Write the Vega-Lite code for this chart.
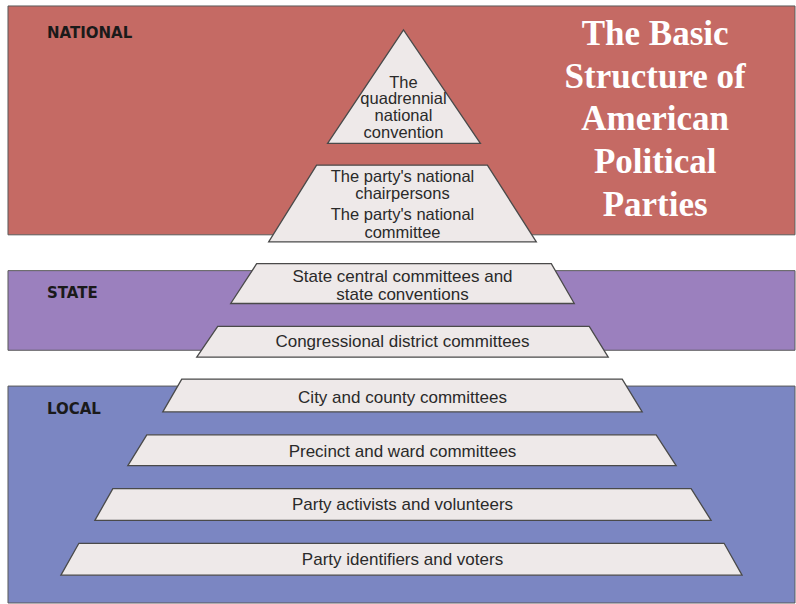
{
  "$schema": "https://vega.github.io/schema/vega-lite/v6.json",
  "width": 796,
  "height": 604,
  "autosize": {"type": "fit", "contains": "padding"},
  "padding": 0,
  "background": "white",
  "config": {"view": {"stroke": null}},
  "datasets": {
    "bands": [
      {"level": "NATIONAL", "x1": 8, "x2": 796, "y1": 6, "y2": 236},
      {"level": "STATE", "x1": 8, "x2": 796, "y1": 272, "y2": 352},
      {"level": "LOCAL", "x1": 8, "x2": 796, "y1": 388, "y2": 606}
    ],
    "shapes": [
      {"shape": "s1", "y": 30, "xl": 404, "xr": 404},
      {"shape": "s1", "y": 144, "xl": 328, "xr": 481},
      {"shape": "s2", "y": 166, "xl": 317, "xr": 488},
      {"shape": "s2", "y": 243, "xl": 269, "xr": 537},
      {"shape": "s3", "y": 265, "xl": 257, "xr": 552},
      {"shape": "s3", "y": 305, "xl": 231, "xr": 575},
      {"shape": "s4", "y": 328, "xl": 218, "xr": 590},
      {"shape": "s4", "y": 359, "xl": 197, "xr": 609},
      {"shape": "s5", "y": 381, "xl": 182, "xr": 623},
      {"shape": "s5", "y": 414, "xl": 163, "xr": 643},
      {"shape": "s6", "y": 437, "xl": 147, "xr": 657},
      {"shape": "s6", "y": 468, "xl": 128, "xr": 677},
      {"shape": "s7", "y": 491, "xl": 113, "xr": 692},
      {"shape": "s7", "y": 523, "xl": 95, "xr": 712},
      {"shape": "s8", "y": 546, "xl": 79, "xr": 725},
      {"shape": "s8", "y": 578, "xl": 61, "xr": 743}
    ],
    "multi": [
      {"text": "The", "x": 404, "y": 88},
      {"text": "quadrennial", "x": 404, "y": 105},
      {"text": "national", "x": 404, "y": 122},
      {"text": "convention", "x": 404, "y": 139},
      {"text": "The party's national", "x": 403, "y": 183},
      {"text": "chairpersons", "x": 403, "y": 200},
      {"text": "The party's national", "x": 403, "y": 221},
      {"text": "committee", "x": 403, "y": 239}
    ],
    "single": [
      {"text": "State central committees and", "x": 403, "y": 283},
      {"text": "state conventions", "x": 403, "y": 301},
      {"text": "Congressional district committees", "x": 403, "y": 349},
      {"text": "City and county committees", "x": 403, "y": 405},
      {"text": "Precinct and ward committees", "x": 403, "y": 459},
      {"text": "Party activists and volunteers", "x": 403, "y": 513},
      {"text": "Party identifiers and voters", "x": 403, "y": 568}
    ],
    "labels": [
      {"text": "NATIONAL", "x": 47, "y": 38},
      {"text": "STATE", "x": 47, "y": 299},
      {"text": "LOCAL", "x": 47, "y": 416}
    ],
    "title": [
      {"text": "The Basic", "x": 656, "y": 45},
      {"text": "Structure of", "x": 656, "y": 88},
      {"text": "American", "x": 656, "y": 131},
      {"text": "Political", "x": 656, "y": 174},
      {"text": "Parties", "x": 656, "y": 217}
    ]
  },
  "layer": [
    {
      "data": {"name": "bands"},
      "mark": {"type": "rect", "stroke": "#5a5a5a", "strokeWidth": 1},
      "encoding": {
        "x": {"field": "x1", "type": "quantitative", "scale": {"domain": [0, 796], "nice": false, "zero": false}, "axis": null},
        "x2": {"field": "x2"},
        "y": {"field": "y1", "type": "quantitative", "scale": {"domain": [0, 604], "nice": false, "zero": false, "reverse": true}, "axis": null},
        "y2": {"field": "y2"},
        "color": {"field": "level", "type": "nominal", "legend": null,
          "scale": {"domain": ["NATIONAL", "STATE", "LOCAL"], "range": ["#c56a64", "#9b80be", "#7b86c2"]}}
      }
    },
    {
      "data": {"name": "shapes"},
      "mark": {"type": "area", "orient": "horizontal", "fill": "#eee9e9", "fillOpacity": 1, "stroke": "#4a4a4a", "strokeWidth": 1.3, "strokeJoin": "miter"},
      "encoding": {
        "y": {"field": "y", "type": "quantitative"},
        "x": {"field": "xl", "type": "quantitative"},
        "x2": {"field": "xr"},
        "detail": {"field": "shape", "type": "nominal"}
      }
    },
    {
      "data": {"name": "multi"},
      "mark": {"type": "text", "font": "Liberation Sans", "fontSize": 16.5, "color": "#2a2a2a", "align": "center", "baseline": "alphabetic"},
      "encoding": {
        "x": {"field": "x", "type": "quantitative"},
        "y": {"field": "y", "type": "quantitative"},
        "text": {"field": "text"}
      }
    },
    {
      "data": {"name": "single"},
      "mark": {"type": "text", "font": "Liberation Sans", "fontSize": 17, "color": "#2a2a2a", "align": "center", "baseline": "alphabetic"},
      "encoding": {
        "x": {"field": "x", "type": "quantitative"},
        "y": {"field": "y", "type": "quantitative"},
        "text": {"field": "text"}
      }
    },
    {
      "data": {"name": "labels"},
      "mark": {"type": "text", "font": "DejaVu Sans", "fontWeight": "bold", "fontSize": 15, "color": "#1a1a1a", "align": "left", "baseline": "alphabetic"},
      "encoding": {
        "x": {"field": "x", "type": "quantitative"},
        "y": {"field": "y", "type": "quantitative"},
        "text": {"field": "text"}
      }
    },
    {
      "data": {"name": "title"},
      "mark": {"type": "text", "font": "Liberation Serif", "fontWeight": "bold", "fontSize": 35, "color": "white", "align": "center", "baseline": "alphabetic"},
      "encoding": {
        "x": {"field": "x", "type": "quantitative"},
        "y": {"field": "y", "type": "quantitative"},
        "text": {"field": "text"}
      }
    }
  ]
}
